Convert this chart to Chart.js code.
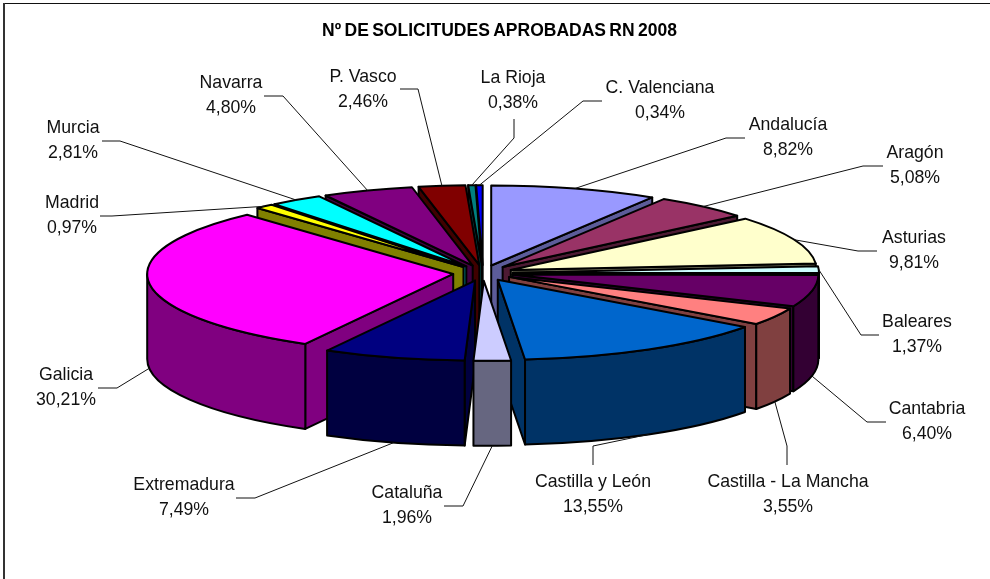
<!DOCTYPE html>
<html>
<head>
<meta charset="utf-8">
<title>Solicitudes aprobadas RN 2008</title>
<script src="https://cdn.jsdelivr.net/npm/chart.js@4/dist/chart.umd.min.js"></script>
<style>
    html, body { margin: 0; padding: 0; background: #fff; }
    #wrap { width: 990px; height: 579px; position: relative; overflow: hidden; }
</style>
</head>
<body>
<div id="wrap"><canvas id="pie3d" width="990" height="579"></canvas></div>
<script>
const chartTitle = 'Nº DE SOLICITUDES APROBADAS RN 2008';
const regions = ['Andalucía', 'Aragón', 'Asturias', 'Baleares', 'Cantabria', 'Castilla - La Mancha',
    'Castilla y León', 'Cataluña', 'Extremadura', 'Galicia', 'Madrid', 'Murcia', 'Navarra',
    'P. Vasco', 'La Rioja', 'C. Valenciana'];
const percents = [8.82, 5.08, 9.81, 1.37, 6.40, 3.55, 13.55, 1.96, 7.49, 30.21, 0.97, 2.81, 4.80, 2.46, 0.38, 0.34];

const topColors = ['#9999ff', '#993366', '#ffffcc', '#ccffff', '#660066', '#ff8080', '#0066cc', '#ccccff',
    '#000080', '#ff00ff', '#ffff00', '#00ffff', '#800080', '#800000', '#008080', '#0000ff'];
const wallColors = ['#5c5c99', '#4d1a33', '#808066', '#668080', '#330033', '#804040', '#003366', '#666680',
    '#000040', '#800080', '#808000', '#008080', '#400040', '#400000', '#004040', '#000080'];

// label centre x, first line y
const labelSpots = [[788, 125], [915, 153], [914, 238], [917, 322], [927, 409], [788, 482], [593, 482], [407, 493],
    [184, 485], [66, 375], [72, 203], [73, 128], [231, 83], [363, 77], [513, 78], [660, 88]];
// leader line: end next to the label, then the elbow; the last point comes from the slice
const leaders = [
    [[745, 138], [726, 138]], [[883, 166], [863, 166]], [[877, 251], [858, 251]], [[879, 335], [861, 335]],
    [[886, 422], [867, 422]], [[787, 465], [787, 446]], [[593, 465], [593, 446]], [[444, 506], [463, 506]],
    [[236, 498], [255, 498]], [[98, 388], [117, 388]], [[100, 216], [112, 216]], [[102, 141], [120, 141]],
    [[264, 96], [283, 96]], [[400, 89], [418, 89]], [[514, 119], [514, 138]], [[602, 101], [583, 101]]
];

const tilt = 0.2614;     // squash of the pie
const depth = 85;        // height of the walls
const explode = 30;      // how far every slice is pulled out
const lineGap = 25;

function sliceGeo(el) {
    const mid = (el.startAngle + el.endAngle) / 2;
    return {
        a0: el.startAngle,
        a1: el.endAngle,
        mid: mid,
        x: el.x + Math.cos(mid) * explode,
        y: el.y + Math.sin(mid) * explode * tilt,
        rx: el.outerRadius,
        ry: el.outerRadius * tilt
    };
}

function rimPoint(g, a, dy) {
    return [g.x + Math.cos(a) * g.rx, g.y + Math.sin(a) * g.ry + (dy || 0)];
}

function paintFace(ctx, color) {
    ctx.closePath();
    ctx.fillStyle = color;
    ctx.fill();
    ctx.stroke();
}

function radialFace(ctx, g, a, color) {
    const p = rimPoint(g, a);
    ctx.beginPath();
    ctx.moveTo(g.x, g.y);
    ctx.lineTo(p[0], p[1]);
    ctx.lineTo(p[0], p[1] + depth);
    ctx.lineTo(g.x, g.y + depth);
    paintFace(ctx, color);
}

function drawSlice(ctx, el, i) {
    const g = sliceGeo(el);

    // cut faces, only the ones turned to the viewer
    if (Math.sin(g.a0 - Math.PI / 2) > 0) radialFace(ctx, g, g.a0, wallColors[i]);
    if (Math.sin(g.a1 + Math.PI / 2) > 0) radialFace(ctx, g, g.a1, wallColors[i]);

    // outer wall, front half only
    const from = Math.max(g.a0, 0);
    const to = Math.min(g.a1, Math.PI);
    if (from < to) {
        ctx.beginPath();
        ctx.ellipse(g.x, g.y, g.rx, g.ry, 0, from, to);
        ctx.ellipse(g.x, g.y + depth, g.rx, g.ry, 0, to, from, true);
        paintFace(ctx, wallColors[i]);
    }

    // top face is painted by the arc element itself, squashed
    ctx.save();
    ctx.translate(g.x, g.y);
    ctx.scale(1, tilt);
    ctx.translate(-el.x, -el.y);
    el.draw(ctx);
    ctx.restore();

    ctx.beginPath();
    ctx.moveTo(g.x, g.y);
    ctx.ellipse(g.x, g.y, g.rx, g.ry, 0, g.a0, g.a1);
    ctx.closePath();
    ctx.stroke();
}

function drawLeader(ctx, el, i) {
    const g = sliceGeo(el);
    const end = Math.sin(g.mid) > 0 ? rimPoint(g, g.mid, depth) : rimPoint(g, g.mid);
    ctx.beginPath();
    ctx.moveTo(leaders[i][0][0], leaders[i][0][1]);
    ctx.lineTo(leaders[i][1][0], leaders[i][1][1]);
    ctx.lineTo(end[0], end[1]);
    ctx.stroke();
}

const pie3dPlugin = {
    id: 'pie3d',
    beforeDatasetsDraw: function(chart) {
        const ctx = chart.ctx;
        const arcs = chart.getDatasetMeta(0).data;

        // back slices first, so the front ones cover them
        const order = arcs.map(function(el, i) { return i; }).sort(function(a, b) {
            return Math.sin((arcs[a].startAngle + arcs[a].endAngle) / 2) - Math.sin((arcs[b].startAngle + arcs[b].endAngle) / 2);
        });

        ctx.save();
        ctx.strokeStyle = '#000';
        ctx.lineWidth = 2;
        ctx.lineJoin = 'round';
        order.forEach(function(i) { drawSlice(ctx, arcs[i], i); });
        ctx.restore();

        ctx.save();
        ctx.strokeStyle = '#111';
        ctx.lineWidth = 1;
        arcs.forEach(function(el, i) { drawLeader(ctx, el, i); });
        ctx.restore();

        return false;
    },
    afterDraw: function(chart) {
        const ctx = chart.ctx;
        ctx.save();

        // frame, only top and left show up
        ctx.fillStyle = '#111';
        ctx.fillRect(3, 3, 987, 1);
        ctx.fillStyle = '#333';
        ctx.fillRect(3, 3, 2, 576);

        ctx.fillStyle = '#000';
        ctx.textAlign = 'center';
        ctx.textBaseline = 'middle';
        ctx.font = 'bold 17.5px "Liberation Sans"';
        ctx.wordSpacing = '-1.5px';
        ctx.fillText(chartTitle, 499.5, 31);

        ctx.fillStyle = '#111';
        ctx.font = '17.7px "Liberation Sans"';
        ctx.wordSpacing = '0px';
        regions.forEach(function(name, i) {
            const spot = labelSpots[i];
            ctx.fillText(name, spot[0], spot[1]);
            ctx.fillText(percents[i].toFixed(2).replace('.', ',') + '%', spot[0], spot[1] + lineGap);
        });
        ctx.restore();
    }
};

new Chart(document.getElementById('pie3d').getContext('2d'), {
    type: 'pie',
    data: {
        labels: regions,
        datasets: [{
            data: percents,
            backgroundColor: topColors,
            borderWidth: 0
        }]
    },
    options: {
        responsive: false,
        animation: false,
        radius: 306,
        rotation: 0,
        layout: { padding: { left: 0, right: 24, top: 0, bottom: 33 } },
        plugins: {
            legend: { display: false },
            tooltip: { enabled: false }
        }
    },
    plugins: [pie3dPlugin]
});
</script>
</body>
</html>
